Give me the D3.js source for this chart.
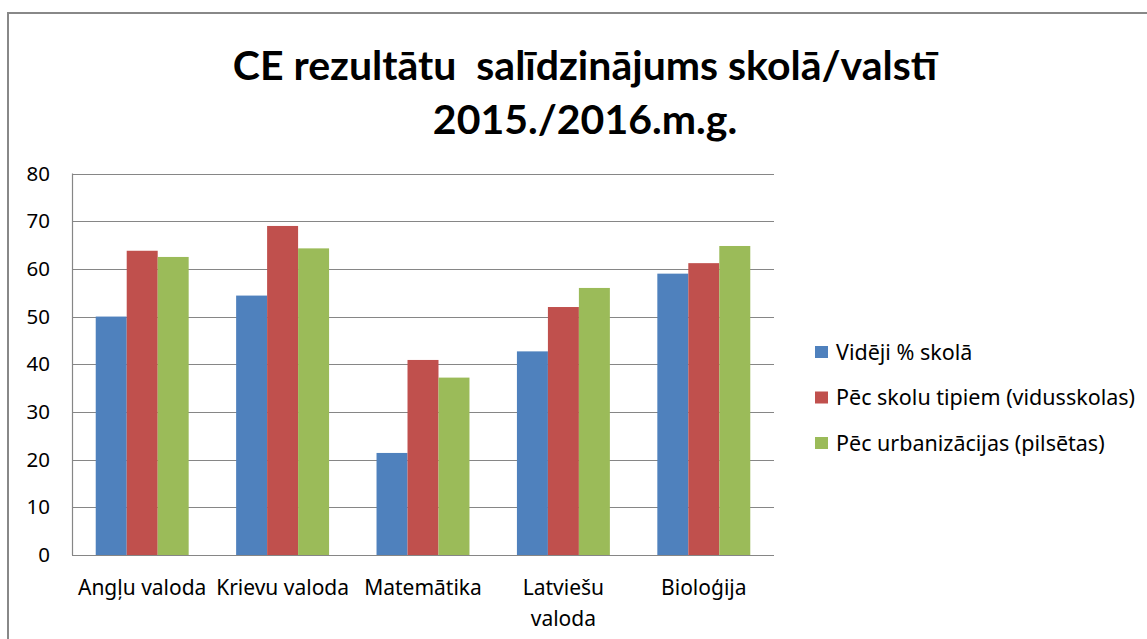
<!DOCTYPE html>
<html>
<head>
<meta charset="utf-8">
<script src="https://cdn.jsdelivr.net/npm/d3@7"></script>
<style>
  html, body { margin: 0; padding: 0; background: #fff; }
  svg { display: block; }
</style>
</head>
<body>
<svg id="chart" width="1147" height="639"></svg>
<script>
const categories = [["Angļu valoda"], ["Krievu valoda"], ["Matemātika"], ["Latviešu", "valoda"], ["Bioloģija"]];
const seriesNames = ["Vidēji % skolā", "Pēc skolu tipiem (vidusskolas)", "Pēc urbanizācijas (pilsētas)"];
const seriesColors = ["#4F81BD", "#C0504D", "#9BBB59"];
const videji = [50.0, 54.4, 21.4, 42.7, 59.0];
const skoluTipi = [63.8, 69.0, 40.9, 52.0, 61.2];
const urbanizacija = [62.5, 64.3, 37.2, 56.0, 64.8];
const yTicks = [0, 10, 20, 30, 40, 50, 60, 70, 80];
const titleLines = ["CE rezultātu  salīdzinājums skolā/valstī", "2015./2016.m.g."];

const seriesValues = [videji, skoluTipi, urbanizacija];
const svg = d3.select("#chart");
const labelFont = "'Noto Sans', sans-serif";

// outer frame
svg.append("path")
  .attr("d", "M8,1000 L8,13 L1200,13")
  .attr("fill", "none").attr("stroke", "#888").attr("stroke-width", 2);

// title
svg.append("g").selectAll("text").data(titleLines).join("text")
  .attr("x", 585).attr("y", (d, i) => 80 + i * 54)
  .attr("text-anchor", "middle")
  .style("white-space", "pre")
  .attr("font-family", "Lato, sans-serif").attr("font-weight", "bold")
  .attr("font-size", 41).attr("fill", "#000")
  .text(d => d);

const x = d3.scaleBand().domain(d3.range(categories.length)).range([72, 774])
  .paddingInner(0.338).paddingOuter(0.169);
const xs = d3.scaleBand().domain(d3.range(seriesNames.length)).range([0, x.bandwidth()]);
const y = d3.scaleLinear().domain([0, 80]).range([555, 173.5]);

// gridlines
svg.append("g").selectAll("line").data(yTicks).join("line")
  .attr("x1", 72).attr("x2", 774)
  .attr("y1", d => Math.round(y(d)) + 0.5).attr("y2", d => Math.round(y(d)) + 0.5)
  .attr("stroke", "#868686").attr("stroke-width", 1.2);

// y axis line
svg.append("line").attr("x1", 72.5).attr("x2", 72.5).attr("y1", y(80)).attr("y2", y(0))
  .attr("stroke", "#868686").attr("stroke-width", 1.2);

// y tick labels
svg.append("g").selectAll("text").data(yTicks).join("text")
  .attr("x", 50).attr("y", d => y(d))
  .attr("dy", "0.35em").attr("text-anchor", "end")
  .attr("font-family", labelFont).attr("font-size", 20.5).attr("fill", "#000")
  .text(d => d);

// bars
const groups = svg.append("g").selectAll("g").data(categories).join("g")
  .attr("transform", (d, i) => `translate(${x(i)},0)`);
groups.selectAll("rect").data((d, i) => seriesValues.map((s, k) => ({k, v: s[i]}))).join("rect")
  .attr("x", d => xs(d.k)).attr("width", xs.bandwidth())
  .attr("y", d => y(d.v)).attr("height", d => y(0) - y(d.v))
  .attr("fill", d => seriesColors[d.k]);

// x axis baseline
svg.append("line").attr("x1", 72).attr("x2", 774).attr("y1", 555.5).attr("y2", 555.5)
  .attr("stroke", "#868686").attr("stroke-width", 1.2);

// x labels
const xl = svg.append("g").selectAll("text").data(categories).join("text")
  .attr("text-anchor", "middle")
  .attr("font-family", labelFont).attr("font-size", 21).attr("fill", "#000");
xl.selectAll("tspan").data((d, i) => d.map(t => ({t, i}))).join("tspan")
  .attr("x", d => x(d.i) + x.bandwidth() / 2)
  .attr("y", (d, j) => 595 + j * 31)
  .text(d => d.t);

// legend
const lg = svg.append("g").selectAll("g").data(seriesNames).join("g")
  .attr("transform", (d, i) => `translate(815,${352 + i * 45.5})`);
lg.append("rect").attr("x", 0).attr("y", -6).attr("width", 13).attr("height", 12)
  .attr("fill", (d, i) => seriesColors[i]);
lg.append("text").attr("x", 21).attr("y", 0).attr("dy", "0.35em")
  .attr("font-family", labelFont).attr("font-size", 21.5).attr("fill", "#000")
  .text(d => d);
</script>
</body>
</html>
